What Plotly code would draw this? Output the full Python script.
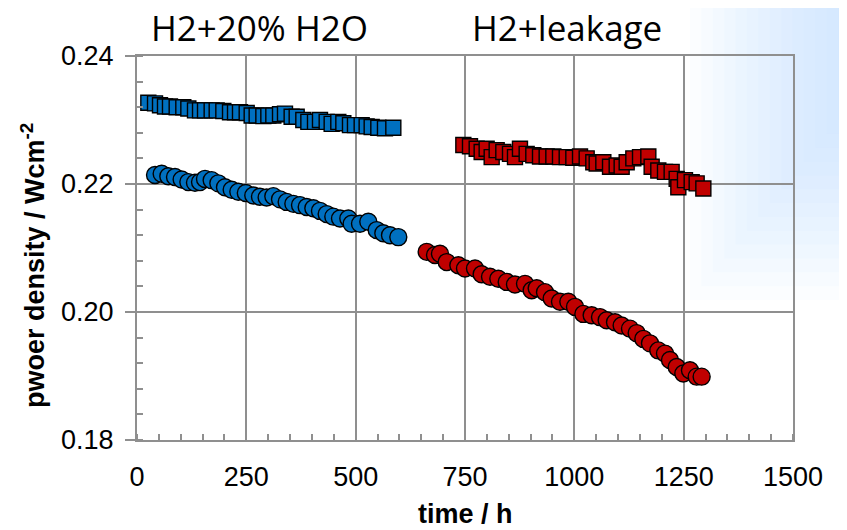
import plotly.graph_objects as go

# ---- data ----
blue_sq_t = [25.9, 41.2, 52.6, 64.0, 75.4, 90.7, 105.9, 117.4, 132.6, 144.1, 155.5, 170.7, 182.2,
             197.4, 212.7, 224.1, 235.5, 250.8, 262.2, 273.6, 288.9, 300.3, 311.7, 327.0, 338.4,
             353.6, 365.1, 380.3, 391.8, 407.0, 418.4, 433.7, 445.1, 460.3, 471.8, 487.0, 498.4,
             513.7, 525.1, 536.6, 551.8, 567.0, 586.1]
blue_sq_p = [0.2327, 0.2326, 0.2323, 0.2321, 0.2321, 0.2320, 0.2320, 0.2318, 0.2315, 0.2315,
             0.2315, 0.2315, 0.2315, 0.2314, 0.2312, 0.2312, 0.2312, 0.2311, 0.2307, 0.2307,
             0.2306, 0.2307, 0.2307, 0.2309, 0.2310, 0.2305, 0.2305, 0.2300, 0.2297, 0.2297,
             0.2300, 0.2297, 0.2294, 0.2297, 0.2295, 0.2292, 0.2292, 0.2292, 0.2290, 0.2289,
             0.2288, 0.2287, 0.2288]

blue_ci_t = [41.2, 56.4, 71.6, 86.9, 102.1, 117.4, 132.6, 144.1, 155.5, 170.7, 186.0, 201.2,
             216.5, 231.7, 248.8, 265.9, 281.2, 296.4, 311.7, 327.0, 342.2, 357.5, 372.7, 388.0,
             403.2, 418.4, 433.7, 448.9, 464.2, 483.2, 490.8, 509.9, 528.9, 548.0, 563.2, 578.5,
             597.5]
blue_ci_p = [0.2214, 0.2216, 0.2212, 0.2211, 0.2207, 0.2203, 0.2202, 0.2203, 0.2208, 0.2206,
             0.2201, 0.2195, 0.2191, 0.2188, 0.2186, 0.2182, 0.2180, 0.2179, 0.2181, 0.2176,
             0.2172, 0.2169, 0.2167, 0.2164, 0.2162, 0.2158, 0.2153, 0.2149, 0.2146, 0.2146,
             0.2138, 0.2138, 0.2141, 0.2128, 0.2123, 0.2120, 0.2117]

red_sq_t = [746.2, 761.4, 776.7, 788.1, 799.5, 811.0, 822.4, 837.6, 852.9, 864.3, 875.7, 891.0,
            906.2, 921.5, 936.7, 952.0, 967.2, 982.5, 997.7, 1013.0, 1028.2, 1043.4, 1051.1,
            1066.3, 1081.6, 1096.8, 1108.2, 1119.7, 1134.9, 1150.2, 1169.2, 1176.8, 1192.0,
            1207.3, 1222.5, 1234.0, 1237.8, 1253.0, 1268.3, 1279.7, 1295.0]
red_sq_p = [0.2261, 0.2259, 0.2255, 0.2250, 0.2255, 0.2242, 0.2253, 0.2250, 0.2247, 0.2242,
            0.2255, 0.2247, 0.2245, 0.2243, 0.2243, 0.2243, 0.2242, 0.2242, 0.2241, 0.2243,
            0.2240, 0.2234, 0.2232, 0.2234, 0.2227, 0.2229, 0.2227, 0.2234, 0.2240, 0.2242,
            0.2243, 0.2227, 0.2221, 0.2219, 0.2219, 0.2208, 0.2195, 0.2206, 0.2203, 0.2201,
            0.2193]

red_ci_t = [662.4, 681.4, 692.8, 708.1, 734.8, 750.0, 772.9, 788.1, 807.2, 826.2, 845.3, 864.3,
            887.2, 902.4, 913.9, 932.9, 948.2, 967.2, 986.3, 1001.5, 1020.6, 1039.6, 1058.7,
            1073.9, 1093.0, 1108.2, 1127.3, 1142.5, 1157.8, 1173.0, 1192.0, 1207.3, 1218.7,
            1234.0, 1249.2, 1264.4, 1279.7, 1291.1]
red_ci_p = [0.2094, 0.2089, 0.2091, 0.2078, 0.2073, 0.2068, 0.2068, 0.2059, 0.2055, 0.2052,
            0.2047, 0.2043, 0.2044, 0.2034, 0.2037, 0.2031, 0.2021, 0.2016, 0.2016, 0.2008,
            0.1997, 0.1995, 0.1992, 0.1987, 0.1984, 0.1979, 0.1974, 0.1967, 0.1958, 0.1951,
            0.1940, 0.1935, 0.1925, 0.1914, 0.1904, 0.1909, 0.1899, 0.1899]

x_ticks = [0, 250, 500, 750, 1000, 1250, 1500]
y_ticks = [0.18, 0.20, 0.22, 0.24]
label_left = "H2+20% H2O"
label_right = "H2+leakage"
x_title = "time / h"
y_title = "pwoer density / Wcm<sup>-2</sup>"

BLUE = "#0070C0"
RED = "#C00000"
GRID = "#8f8f8f"

fig = go.Figure()


def add(t, p, color, symbol, size):
    fig.add_trace(go.Scatter(
        x=t, y=p, mode="markers",
        marker=dict(symbol=symbol, size=size, color=color,
                    line=dict(color="black", width=1.4)),
        showlegend=False, hoverinfo="skip"))


add(blue_sq_t, blue_sq_p, BLUE, "square", 15)
add(blue_ci_t, blue_ci_p, BLUE, "circle", 17)
add(red_sq_t, red_sq_p, RED, "square", 15)
add(red_ci_t, red_ci_p, RED, "circle", 17)

# the page body has an 8px margin, so the figure is 8px smaller and shifted
OFF = 8
W, H = 847 - OFF, 530 - OFF
L, T = 137 - OFF, 56 - OFF
pw, ph = 656, 384
R, B = W - L - pw, H - T - ph


def px(xp):  # screen x (reference pixels) -> paper x
    return (xp - OFF - L) / pw


def py(yp):  # screen y (reference pixels) -> paper y
    return (T + ph - (yp - OFF)) / ph


# faint blue glow in the top-right corner (slide background)
shapes = []
n = 14
for i in range(n):
    gx = 690 + i * (838 - 690) / (n - 1)
    gy = 300 - i * (300 - 120) / (n - 1)
    shapes.append(dict(type="rect", xref="paper", yref="paper", layer="below",
                       x0=px(gx), x1=px(860), y0=py(gy), y1=py(-10),
                       fillcolor="#b3e4fa", opacity=0.06, line=dict(width=0)))

tickfont = dict(family="Liberation Sans, Arial, sans-serif", size=27, color="black")
titlefont = dict(family="Liberation Sans, Arial, sans-serif", size=27, color="black")
labfont = dict(family="Open Sans, Noto Sans, sans-serif", size=35, color="black")

fig.update_layout(
    width=W, height=H,
    margin=dict(l=L, r=R, t=T, b=B, autoexpand=False),
    paper_bgcolor="white",
    plot_bgcolor="rgba(255,255,255,0.9)",
    shapes=shapes,
    xaxis=dict(range=[0, 1500], tickvals=x_ticks, ticktext=[str(v) for v in x_ticks],
               showgrid=True, gridcolor=GRID, gridwidth=1.5,
               showline=True, linecolor=GRID, linewidth=2, mirror=True,
               ticks="", tickfont=tickfont, ticklabelstandoff=12, zeroline=False,
               minor=dict(dtick=50, ticks="inside", ticklen=6, tickcolor=GRID,
                          tickwidth=1.5, showgrid=False)),
    yaxis=dict(range=[0.18, 0.24], tickvals=y_ticks, ticktext=["%.2f" % v for v in y_ticks],
               showgrid=True, gridcolor=GRID, gridwidth=1.5,
               showline=True, linecolor=GRID, linewidth=2, mirror=True,
               ticks="outside", ticklen=10, tickcolor=GRID, tickwidth=1.5,
               tickfont=tickfont, ticklabelstandoff=6, zeroline=False,
               minor=dict(dtick=0.004, ticks="inside", ticklen=6, tickcolor=GRID,
                          tickwidth=1.5, showgrid=False)),
    annotations=[
        dict(text=label_left, xref="paper", yref="paper", x=px(259.5), y=py(27),
             showarrow=False, font=labfont, xanchor="center", yanchor="middle"),
        dict(text=label_right, xref="paper", yref="paper", x=px(566.5), y=py(28),
             showarrow=False, font=labfont, xanchor="center", yanchor="middle"),
        dict(text="<b>" + x_title + "</b>", xref="paper", yref="paper", x=px(465), y=py(514),
             showarrow=False, font=titlefont, xanchor="center", yanchor="middle"),
        dict(text="<b>" + y_title + "</b>", xref="paper", yref="paper", x=px(33), y=py(266),
             showarrow=False, font=titlefont, xanchor="center", yanchor="middle", textangle=-90),
    ],
)

fig.write_html("out.html")
